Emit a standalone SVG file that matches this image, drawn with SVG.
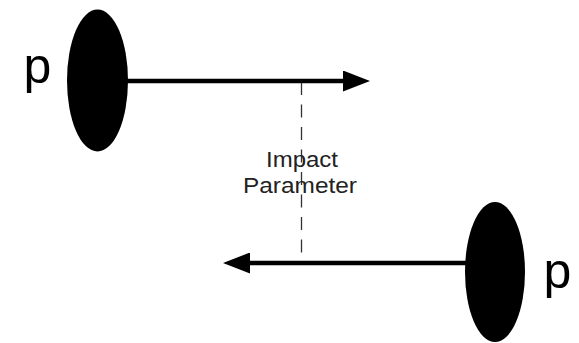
<svg xmlns="http://www.w3.org/2000/svg" width="579" height="343" viewBox="0 0 579 343">
<style>
.particle{fill:#000}
.label{font-family:"Liberation Sans",Arial,sans-serif;fill:#000}
.big{font-size:50px}
.small{font-size:22px;fill:#222}
.beam{stroke:#000;stroke-width:4.5;fill:none}
.dash{stroke:#333;stroke-width:1.3;stroke-dasharray:13 9.5;fill:none}
</style>
<defs>
<marker id="head" viewBox="0 0 27 21" refX="0" refY="10.5" markerWidth="27" markerHeight="21" markerUnits="userSpaceOnUse" orient="auto">
<path d="M0,0 L27,10.5 L0,21 Z" fill="#000"/>
</marker>
</defs>
<rect width="579" height="343" fill="#fff"/>
<g id="connectors">
<path class="dash" d="M301.5,82 V261"/>
<path class="beam" d="M126,81 H343" marker-end="url(#head)"/>
<path class="beam" d="M466,263 H250" marker-end="url(#head)"/>
</g>
<g id="proton-top">
<ellipse class="particle" cx="97.5" cy="80.5" rx="30.5" ry="71"/>
<text class="label big" x="23.5" y="83">p</text>
</g>
<g id="proton-bottom">
<ellipse class="particle" cx="495" cy="272" rx="30" ry="70"/>
<text class="label big" x="543.4" y="288">p</text>
</g>
<g id="impact-label">
<text class="label small" x="302" y="167" text-anchor="middle" textLength="72" lengthAdjust="spacingAndGlyphs">Impact</text>
<text class="label small" x="300" y="193" text-anchor="middle" textLength="114" lengthAdjust="spacingAndGlyphs">Parameter</text>
</g>
</svg>
